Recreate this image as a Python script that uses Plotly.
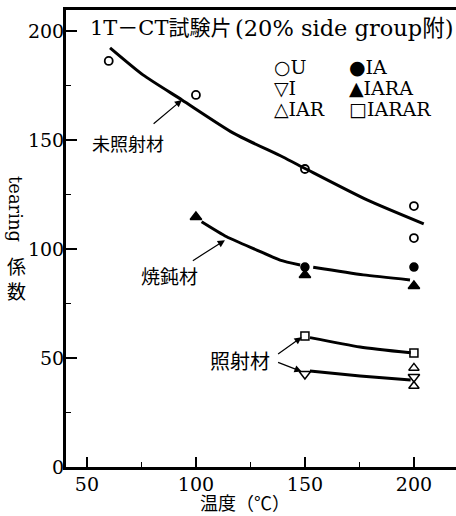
import plotly.graph_objects as go

# ---- data ----
U_x = [60, 100, 150, 200, 200]
U_y = [186.4, 170.8, 136.8, 119.8, 105.1]
IA_x = [150, 200]
IA_y = [91.8, 91.8]
IARA_x = [100, 150, 200]
IARA_y = [114.8, 88.2, 83.1]
IARAR_x = [150, 200]
IARAR_y = [60.1, 52.3]
I_x = [150, 200]
I_y = [42.7, 41.3]
IAR_x = [200, 200]
IAR_y = [45.5, 37.2]

# fitted curves
unirr_x = [60.6, 75.7, 93.6, 117.0, 139.9, 150.5, 178.5, 204.5]
unirr_y = [192.4, 180.0, 168.5, 153.4, 142.3, 136.8, 122.6, 111.6]
anneal_x = [102.6, 114.1, 127.9, 138.6, 147.8, None, 153.8, 176.8, 198.2]
anneal_y = [112.6, 105.7, 99.6, 95.0, 92.7, None, 91.7, 88.2, 85.9]
irr_up_x = [152.3, 175.3, 198.5]
irr_up_y = [59.4, 55.1, 52.4]
irr_lo_x = [152.3, 175.3, 198.5]
irr_lo_y = [44.1, 41.8, 39.9]

x_ticks = [50, 100, 150, 200]
y_ticks = [0, 50, 100, 150, 200]

SERIF = "DejaVu Serif, Noto Sans CJK JP, serif"
CJK = "Noto Sans CJK JP, sans-serif"

fig = go.Figure()

def curve(x, y):
    fig.add_trace(go.Scatter(x=x, y=y, mode="lines", line=dict(color="black", width=3, shape="spline", smoothing=0.6),
                             connectgaps=False, hoverinfo="skip"))

curve(unirr_x, unirr_y)
curve(anneal_x, anneal_y)
curve(irr_up_x, irr_up_y)
curve(irr_lo_x, irr_lo_y)

def pts(x, y, symbol, size, lw=1.5):
    fig.add_trace(go.Scatter(x=x, y=y, mode="markers",
                             marker=dict(symbol=symbol, size=size, color="black",
                                         line=dict(color="black", width=lw))))

pts(U_x, U_y, "circle-open", 8, 1.8)
pts(IA_x, IA_y, "circle", 8)
pts(IARA_x, IARA_y, "triangle-up", 10)
pts(IARAR_x, IARAR_y, "square-open", 8, 1.5)
pts(I_x, I_y, "triangle-down-open", 10, 1.5)
pts(IAR_x, IAR_y, "triangle-up-open", 9, 1.5)


def P(px, py):
    # pixel -> paper coords of the plot area (plot area x:66..456, y:10..467)
    return (px - 66) / 390.0, (467 - py) / 457.0

annotations = []

def text(t, px, py, family, size, xanchor="center", angle=0):
    lx, ly = P(px, py)
    annotations.append(dict(x=lx, y=ly, xref="paper", yref="paper", xanchor=xanchor, yanchor="middle",
                            text=t, showarrow=False, textangle=angle,
                            font=dict(family=family, size=size, color="black")))

# title
text("1T－CT試験片", 88, 28, SERIF, 21, "left")
text("(20% side group附)", 233, 28, SERIF, 22.5, "left")
# legend text
for t, px, py in [("○U", 272, 67), ("●IA", 347, 67), ("▽I", 272, 88), ("▲IARA", 347, 88),
                  ("△IAR", 272, 109), ("□IARAR", 347, 109)]:
    text(t, px, py, SERIF, 19, "left")

# curve labels
text("未照射材", 128, 143, CJK, 18)
text("焼鈍材", 169, 275, CJK, 19)
text("照射材", 240, 360, CJK, 20)

# arrows (tail -> tip) in data coordinates
for (ax_, ay_, x_, y_) in [(79.9, 157.0, 93.6, 168.5), (97.9, 94.3, 113.3, 104.1),
                           (137.0, 51.4, 148.5, 59.6), (137.0, 48.3, 148.5, 43.8)]:
    annotations.append(dict(x=x_, y=y_, ax=ax_, ay=ay_, xref="x", yref="y", axref="x", ayref="y",
                            text="", showarrow=True, arrowhead=2, arrowsize=1.2, arrowwidth=1.2,
                            arrowcolor="black", standoff=0))

# y-axis title: 'tearing' rotated, 係数 upright
text("tearing", 16, 209, SERIF, 18, "center", 90)
text("係", 16, 265, CJK, 19)
text("数", 16, 290, CJK, 19)
# x-axis title
text("温度（℃）", 245, 502, CJK, 18)

fig.update_layout(
    width=456, height=516,
    margin=dict(l=66, r=0, t=10, b=49),
    paper_bgcolor="white", plot_bgcolor="white",
    showlegend=False,
    annotations=annotations,
    xaxis=dict(range=[40.4, 219.3], tickvals=x_ticks, ticks="inside", ticklen=10, tickwidth=1.5,
               tickcolor="black", showline=True, linewidth=2.5, linecolor="black", mirror=True,
               showgrid=False, zeroline=False, ticklabelstandoff=-2,
               tickfont=dict(family=SERIF, size=19, color="black"),
               minor=dict(tickvals=[75, 125, 175], ticks="inside", ticklen=5, tickwidth=1.2,
                          tickcolor="black")),
    yaxis=dict(range=[0, 209.8], tickvals=y_ticks, ticks="inside", ticklen=11, tickwidth=1.5,
               tickcolor="black", showline=True, linewidth=3, linecolor="black",
               showgrid=False, zeroline=False, ticklabelstandoff=-5,
               tickfont=dict(family=SERIF, size=19, color="black"),
               minor=dict(tickvals=[25, 75, 125, 175], ticks="inside", ticklen=5, tickwidth=1.2,
                          tickcolor="black")),
)

fig.write_html("out.html", config={"displayModeBar": False},
               post_script="document.body.style.margin='0px';document.body.style.padding='0px';")
